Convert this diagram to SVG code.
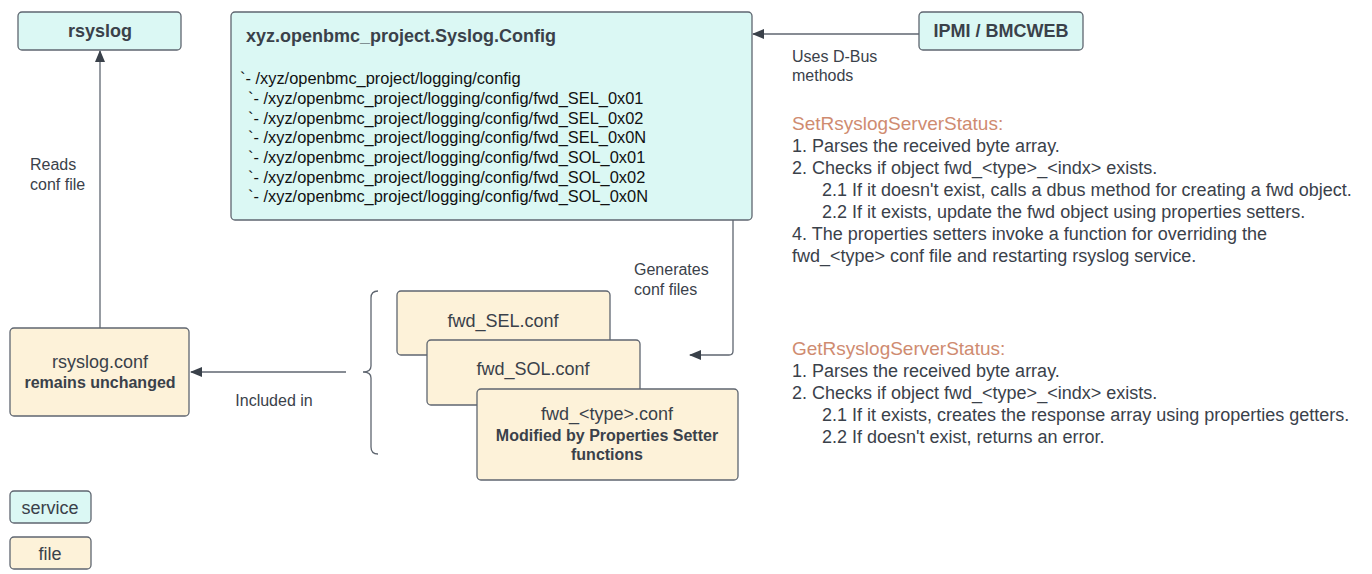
<svg xmlns="http://www.w3.org/2000/svg" width="1372" height="574" viewBox="0 0 1372 574">
<style>
text{font-family:"Liberation Sans",Arial,sans-serif;fill:#3a414a}
.svc{fill:#dbf8f4;stroke:#5f6670;stroke-width:1.3}
.file{fill:#fdf2d9;stroke:#5f6670;stroke-width:1.3}
.b{font-weight:bold}
.t18{font-size:18px}
.t17{font-size:18px}
.t16{font-size:16px}
.path{font-size:16.4px;fill:#111}
.hd{fill:#cf8b70;font-size:19px}
.ln{fill:none;stroke:#5f6670;stroke-width:1.3}
.c{text-anchor:middle}
</style>
<defs>
<marker id="ah" viewBox="0 0 12 10" refX="11" refY="5" markerWidth="12" markerHeight="10" markerUnits="userSpaceOnUse" orient="auto">
<path d="M0,0 L12,5 L0,10 Z" fill="#3a414a"/>
</marker>
</defs>
<g id="connectors">
<path class="ln" d="M100,328 V51" marker-end="url(#ah)"/>
<path class="ln" d="M919,34 H753" marker-end="url(#ah)"/>
<path class="ln" d="M346,372 H191" marker-end="url(#ah)"/>
<path class="ln" d="M733,220 V351 Q733,355 729,355 H690" marker-end="url(#ah)"/>
<path class="ln" d="M378,291 Q371,291 371,298 V366 Q371,372 363,372 Q371,372 371,378 V447 Q371,454 378,454"/>
<text class="t16" x="30" y="170">Reads</text>
<text class="t16" x="30" y="190">conf file</text>
<text class="t16" x="792" y="62">Uses D-Bus</text>
<text class="t16" x="792" y="81">methods</text>
<text class="t16" x="634" y="275">Generates</text>
<text class="t16" x="634" y="295">conf files</text>
<text class="t16 c" x="274" y="406">Included in</text>
</g>
<g id="rsyslog">
<rect class="svc" x="18" y="12" width="163" height="38" rx="4"/>
<text class="t18 b c" x="100" y="37">rsyslog</text>
</g>
<g id="config">
<rect class="svc" x="231" y="12" width="521" height="208" rx="4"/>
<text class="t18 b" x="246" y="42">xyz.openbmc_project.Syslog.Config</text>
<text class="path" x="240" y="84">`- /xyz/openbmc_project/logging/config</text>
<text class="path" x="248" y="104">`- /xyz/openbmc_project/logging/config/fwd_SEL_0x01</text>
<text class="path" x="248" y="124">`- /xyz/openbmc_project/logging/config/fwd_SEL_0x02</text>
<text class="path" x="248" y="143">`- /xyz/openbmc_project/logging/config/fwd_SEL_0x0N</text>
<text class="path" x="248" y="163">`- /xyz/openbmc_project/logging/config/fwd_SOL_0x01</text>
<text class="path" x="248" y="183">`- /xyz/openbmc_project/logging/config/fwd_SOL_0x02</text>
<text class="path" x="248" y="202">`- /xyz/openbmc_project/logging/config/fwd_SOL_0x0N</text>
</g>
<g id="ipmi">
<rect class="svc" x="919" y="12" width="164" height="38" rx="4"/>
<text class="t18 b c" x="1001" y="37">IPMI / BMCWEB</text>
</g>
<g id="rsyslogconf">
<rect class="file" x="10" y="328" width="179" height="88" rx="4"/>
<text class="t18 c" x="100" y="368">rsyslog.conf</text>
<text class="t16 b c" x="100" y="388">remains unchanged</text>
</g>
<g id="fwdsel">
<rect class="file" x="397" y="291" width="213" height="64" rx="4"/>
<text class="t18 c" x="503" y="327">fwd_SEL.conf</text>
</g>
<g id="fwdsol">
<rect class="file" x="427" y="340" width="213" height="65" rx="4"/>
<text class="t18 c" x="533" y="375">fwd_SOL.conf</text>
</g>
<g id="fwdtype">
<rect class="file" x="477" y="389" width="261" height="91" rx="4"/>
<text class="t18 c" x="607" y="420">fwd_&lt;type&gt;.conf</text>
<text class="t16 b c" x="607" y="441">Modified by Properties Setter</text>
<text class="t16 b c" x="607" y="460">functions</text>
</g>
<g id="setstatus">
<text class="hd" x="792" y="130">SetRsyslogServerStatus:</text>
<text class="t17" x="792" y="152">1. Parses the received byte array.</text>
<text class="t17" x="792" y="174">2. Checks if object fwd_&lt;type&gt;_&lt;indx&gt; exists.</text>
<text class="t17" x="822" y="196">2.1 If it doesn't exist, calls a dbus method for creating a fwd object.</text>
<text class="t17" x="822" y="218">2.2 If it exists, update the fwd object using properties setters.</text>
<text class="t17" x="792" y="240">4. The properties setters invoke a function for overriding the</text>
<text class="t17" x="792" y="262">fwd_&lt;type&gt; conf file and restarting rsyslog service.</text>
</g>
<g id="getstatus">
<text class="hd" x="792" y="355">GetRsyslogServerStatus:</text>
<text class="t17" x="792" y="377">1. Parses the received byte array.</text>
<text class="t17" x="792" y="399">2. Checks if object fwd_&lt;type&gt;_&lt;indx&gt; exists.</text>
<text class="t17" x="822" y="421">2.1 If it exists, creates the response array using properties getters.</text>
<text class="t17" x="822" y="443">2.2 If doesn't exist, returns an error.</text>
</g>
<g id="legend-service">
<rect class="svc" x="10" y="491" width="81" height="32" rx="4"/>
<text class="t18 c" x="50" y="514">service</text>
</g>
<g id="legend-file">
<rect class="file" x="10" y="537" width="81" height="32" rx="4"/>
<text class="t18 c" x="50" y="560">file</text>
</g>
</svg>
